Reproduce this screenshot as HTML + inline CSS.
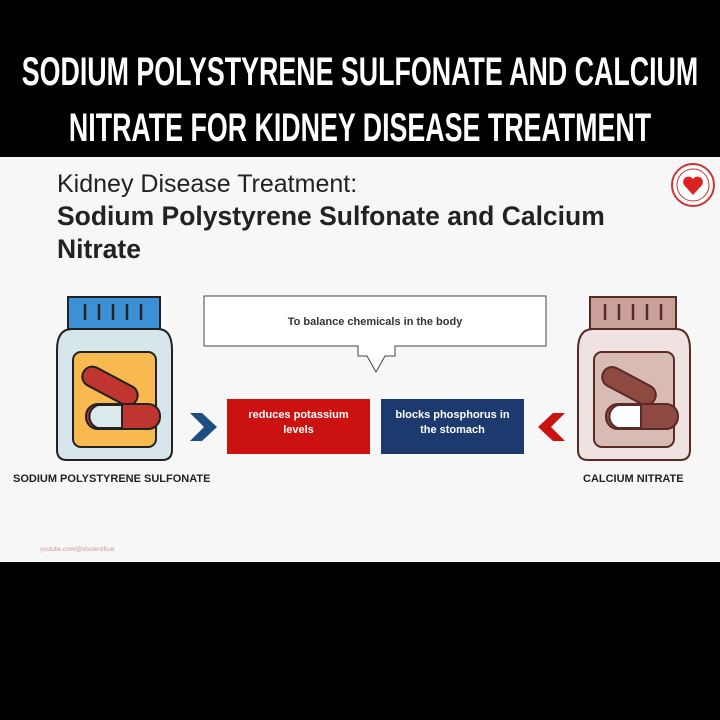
<!DOCTYPE html>
<html><head><style>
body{margin:0;width:720px;height:720px;background:#000;position:relative;overflow:hidden;font-family:"Liberation Sans",sans-serif}
.t{position:absolute;left:-200px;width:1120px;text-align:center;white-space:nowrap;color:#fff;font-weight:bold;font-size:40px;transform:scaleX(0.67);transform-origin:560px 0}
#panel{position:absolute;left:0;top:157px;width:720px;height:405px;background:#f7f7f7}
.a{position:absolute}
</style></head><body>
<div class="t" style="top:50px">SODIUM POLYSTYRENE SULFONATE AND CALCIUM</div>
<div class="t" style="top:106px">NITRATE FOR KIDNEY DISEASE TREATMENT</div>
<div id="panel"></div>
<div class="a" style="left:57px;top:170px;font-size:25px;color:#222">Kidney Disease Treatment:</div>
<div class="a" style="left:57px;top:200px;font-size:26.5px;font-weight:bold;color:#222;line-height:33px">Sodium Polystyrene Sulfonate and Calcium<br>Nitrate</div>
<svg class="a" style="left:0;top:0" width="720" height="720">
<circle cx="693" cy="185" r="21" fill="#fff" stroke="#c33" stroke-width="2"/>
<circle cx="693" cy="185" r="16" fill="none" stroke="#c33" stroke-width="1"/>
<path d="M693 195 L684 185 A5 5 0 0 1 693 179 A5 5 0 0 1 702 185Z" fill="#d22"/>
<rect x="68" y="297" width="92" height="32" fill="#3d8fd6" stroke="#222" stroke-width="2"/>
<g stroke="#222" stroke-width="2.5"><line x1="85" y1="304" x2="85" y2="320"/><line x1="99" y1="304" x2="99" y2="320"/><line x1="113" y1="304" x2="113" y2="320"/><line x1="127" y1="304" x2="127" y2="320"/><line x1="141" y1="304" x2="141" y2="320"/></g>
<path d="M72 329 H158 Q172 329 172 350 V450 Q172 460 162 460 H67 Q57 460 57 450 V350 Q57 329 72 329Z" fill="#d7e6ea" stroke="#222" stroke-width="2"/>
<rect x="73" y="352" width="83" height="95" rx="8" fill="#f8b950" stroke="#222" stroke-width="2"/>
<rect x="80" y="376" width="60" height="20" rx="10" transform="rotate(28 110 386)" fill="#bf3530" stroke="#222" stroke-width="2"/>
<rect x="86" y="404" width="74" height="25" rx="12" fill="#bf3530" stroke="#222" stroke-width="2"/>
<path d="M122 405 H98 A12 12 0 0 0 98 428 H122Z" fill="#dbe9ec" stroke="#222" stroke-width="2"/>
<rect x="590" y="297" width="86" height="32" fill="#c9a09a" stroke="#5a2a25" stroke-width="2"/>
<g stroke="#5a2a25" stroke-width="2.5"><line x1="605" y1="304" x2="605" y2="320"/><line x1="619" y1="304" x2="619" y2="320"/><line x1="633" y1="304" x2="633" y2="320"/><line x1="647" y1="304" x2="647" y2="320"/><line x1="661" y1="304" x2="661" y2="320"/></g>
<path d="M593 329 H676 Q690 329 690 350 V450 Q690 460 680 460 H588 Q578 460 578 450 V350 Q578 329 593 329Z" fill="#efe3e2" stroke="#5a2a25" stroke-width="2"/>
<rect x="594" y="352" width="80" height="95" rx="8" fill="#d9bbb6" stroke="#5a2a25" stroke-width="2"/>
<rect x="600" y="376" width="58" height="20" rx="10" transform="rotate(28 629 386)" fill="#8e4a42" stroke="#5a2a25" stroke-width="2"/>
<rect x="606" y="404" width="72" height="25" rx="12" fill="#8e4a42" stroke="#5a2a25" stroke-width="2"/>
<path d="M641 405 H618 A12 12 0 0 0 618 428 H641Z" fill="#fff" stroke="#5a2a25" stroke-width="2"/>
<path d="M204 296 H546 V346 H395 V356 H385 L376 372 L367 356 H358 V346 H204Z" fill="#fff" stroke="#444" stroke-width="1"/>
<rect x="227" y="399" width="143" height="55" fill="#cc1111"/>
<rect x="381" y="399" width="143" height="55" fill="#1c3a6e"/>
<path d="M190 413 H202 L217 427 L202 441 H190 L204 427Z" fill="#1d4e80"/>
<path d="M565 413 H553 L538 427 L553 441 H565 L551 427Z" fill="#cc1111"/>
</svg>
<div class="a" style="left:204px;top:316px;width:342px;text-align:center;font-size:11px;font-weight:bold;color:#333">To balance chemicals in the body</div>
<div class="a" style="left:227px;top:408px;width:143px;text-align:center;font-size:11px;font-weight:bold;color:#fff;line-height:15px">reduces potassium<br>levels</div>
<div class="a" style="left:381px;top:408px;width:143px;text-align:center;font-size:11px;font-weight:bold;color:#fff;line-height:15px">blocks phosphorus in<br>the stomach</div>
<div class="a" style="left:13px;top:473px;font-size:11px;font-weight:bold;color:#222">SODIUM POLYSTYRENE SULFONATE</div>
<div class="a" style="left:583px;top:473px;font-size:11px;font-weight:bold;color:#222">CALCIUM NITRATE</div>
<div class="a" style="left:40px;top:547px;font-size:6px;color:#c99">youtube.com/@vlscientifical</div>
</body></html>
